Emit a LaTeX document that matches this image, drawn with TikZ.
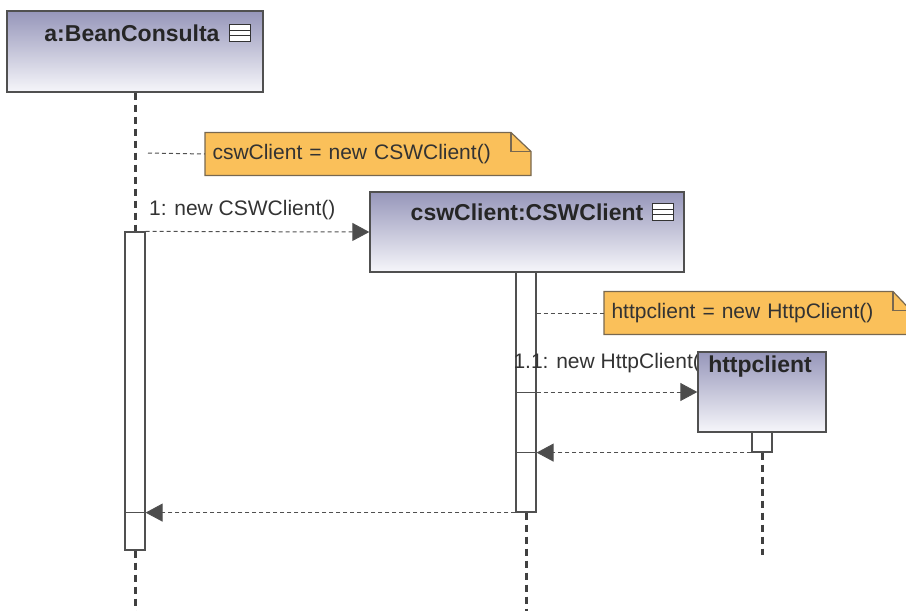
\documentclass[tikz,border=0pt]{standalone}
\usepackage{fontspec}
\setmainfont{Liberation Sans}
\usetikzlibrary{arrows.meta,calc}
\definecolor{edgegrey}{RGB}{80,80,80}
\definecolor{boxtop}{RGB}{150,150,186}
\definecolor{boxbottom}{RGB}{246,246,250}
\definecolor{notefill}{RGB}{250,192,90}
\definecolor{noteline}{RGB}{120,104,80}
\tikzset{> = {Triangle[length=17pt,width=18pt]}, every picture/.style={line width=1pt}}
\tikzset{
  lifebox/.style={draw=edgegrey, line width=1.3pt, top color=boxtop, bottom color=boxbottom, inner sep=0pt},
  objtitle/.style={font=\bfseries\fontsize{23}{25}\selectfont, text=black!85, inner sep=0pt},
  actbar/.style={draw=edgegrey, fill=white, line width=1.2pt, minimum width=20pt, inner sep=0pt},
  lifeline/.style={draw=black!75, line width=3pt, dash pattern=on 7pt off 5pt},
  msg/.style={draw=edgegrey, dash pattern=on 4pt off 3pt, -{Triangle[length=17pt,width=18pt,fill=black!70]}},
  msglabel/.style={font=\fontsize{21}{24}\selectfont, text=black!80, inner sep=0pt},
  notebox/.style={font=\fontsize{21}{24}\selectfont, text=black!80, inner xsep=7pt, inner ysep=0pt, minimum height=42pt, align=left},
  noteshape/.style={fill=notefill, draw=noteline, line width=1.2pt},
  notelink/.style={draw=edgegrey, dash pattern=on 4pt off 3pt},
  compicon/.pic={
    \draw[fill=white, line width=1.5pt, draw=black!80] (-10.5,-8.5) rectangle (10.5,8.5);
    \draw[line width=1.3pt, draw=black!80] (-10.5,-2.8) -- (10.5,-2.8) (-10.5,2.8) -- (10.5,2.8);
  }
}

\begin{document}
\begin{tikzpicture}[x=1pt,y=-1pt]
\useasboundingbox (0,0) rectangle (906,611);

% objects
\node[lifebox, minimum width=256pt, minimum height=81pt] (bean) at (135,51.5) {};
\node[objtitle] (beanT) at (132,33) {a:BeanConsulta};
\pic at ($(beanT.east)+(20,0)$) {compicon};

\node[lifebox, minimum width=314pt, minimum height=80pt] (csw) at (527,232) {};
\node[objtitle] (cswT) at (527,212) {cswClient:CSWClient};
\pic at ($(cswT.east)+(19,0)$) {compicon};

% activations
\begin{scope}[every node/.style={actbar}]
\node[minimum height=318pt] (barA) at (135,391) {};
\node[minimum height=240pt] (barC) at (526,392) {};
\end{scope}

\draw[lifeline] (bean.south) -- (barA.north);
\draw[lifeline] (barA.south) -- (135,611);
\draw[lifeline] (barC.south) -- (526,611);

% notes
\node[notebox, text width=311pt, anchor=west] (note1) at (205,154) {\phantom{cswClient = new CSWClient()}};
\fill[noteshape] (note1.south west) |- ($(note1.north east)+(-20,0)$) -- ($(note1.north east)+(0,19)$) |- cycle;
\draw[noteline, line width=1.2pt] ($(note1.north east)+(-20,0)$) |- ($(note1.north east)+(0,19)$);
\node[notebox, text width=311pt, anchor=west] at (205,154) {cswClient = new CSWClient()};
\coordinate (n1start) at (148,153);
\path (n1start) edge[notelink] (note1.west);

\node[notebox, text width=292pt, anchor=west] (note2) at (604,313) {\phantom{httpclient = new HttpClient()}};
\fill[noteshape] (note2.south west) |- ($(note2.north east)+(-18,0)$) -- ($(note2.north east)+(0,19)$) |- cycle;
\draw[noteline, line width=1.2pt] ($(note2.north east)+(-18,0)$) |- ($(note2.north east)+(0,19)$);
\node[notebox, text width=292pt, anchor=west] at (604,313) {httpclient = new HttpClient()};
\path (barC.east |- note2.west) edge[notelink] (note2.west);

% message 1
\node[msglabel, anchor=south west] (m1) at ($(barA.north east)+(3,-11)$) {1: new CSWClient()};
\path (barA.north east) edge[msg] (csw.west);

% httpclient object
\node[msglabel, anchor=south west] (m11) at (513,373) {1.1: new HttpClient()};
\node[lifebox, minimum width=128pt, minimum height=80pt] (http) at (762,392) {};
\node[objtitle] (httpT) at (760,367) {httpclient};
\node[actbar, minimum height=20pt] (barH) at (762,442) {};
\draw[lifeline] (barH.south) -- (762,555);

\draw[edgegrey] (barC.west |- http.west) -- (barC.east |- http.west);
\path (barC.east |- http.west) edge[msg] (http.west);

% returns
\draw[edgegrey] (barC.west |- barH.south) -- (barC.east |- barH.south);
\path (barH.south west) edge[msg] (barC.east |- barH.south);

\draw[edgegrey] (barA.west |- barC.south) -- (barA.east |- barC.south);
\path (barC.south west) edge[msg] (barA.east |- barC.south);
\end{tikzpicture}
\end{document}
